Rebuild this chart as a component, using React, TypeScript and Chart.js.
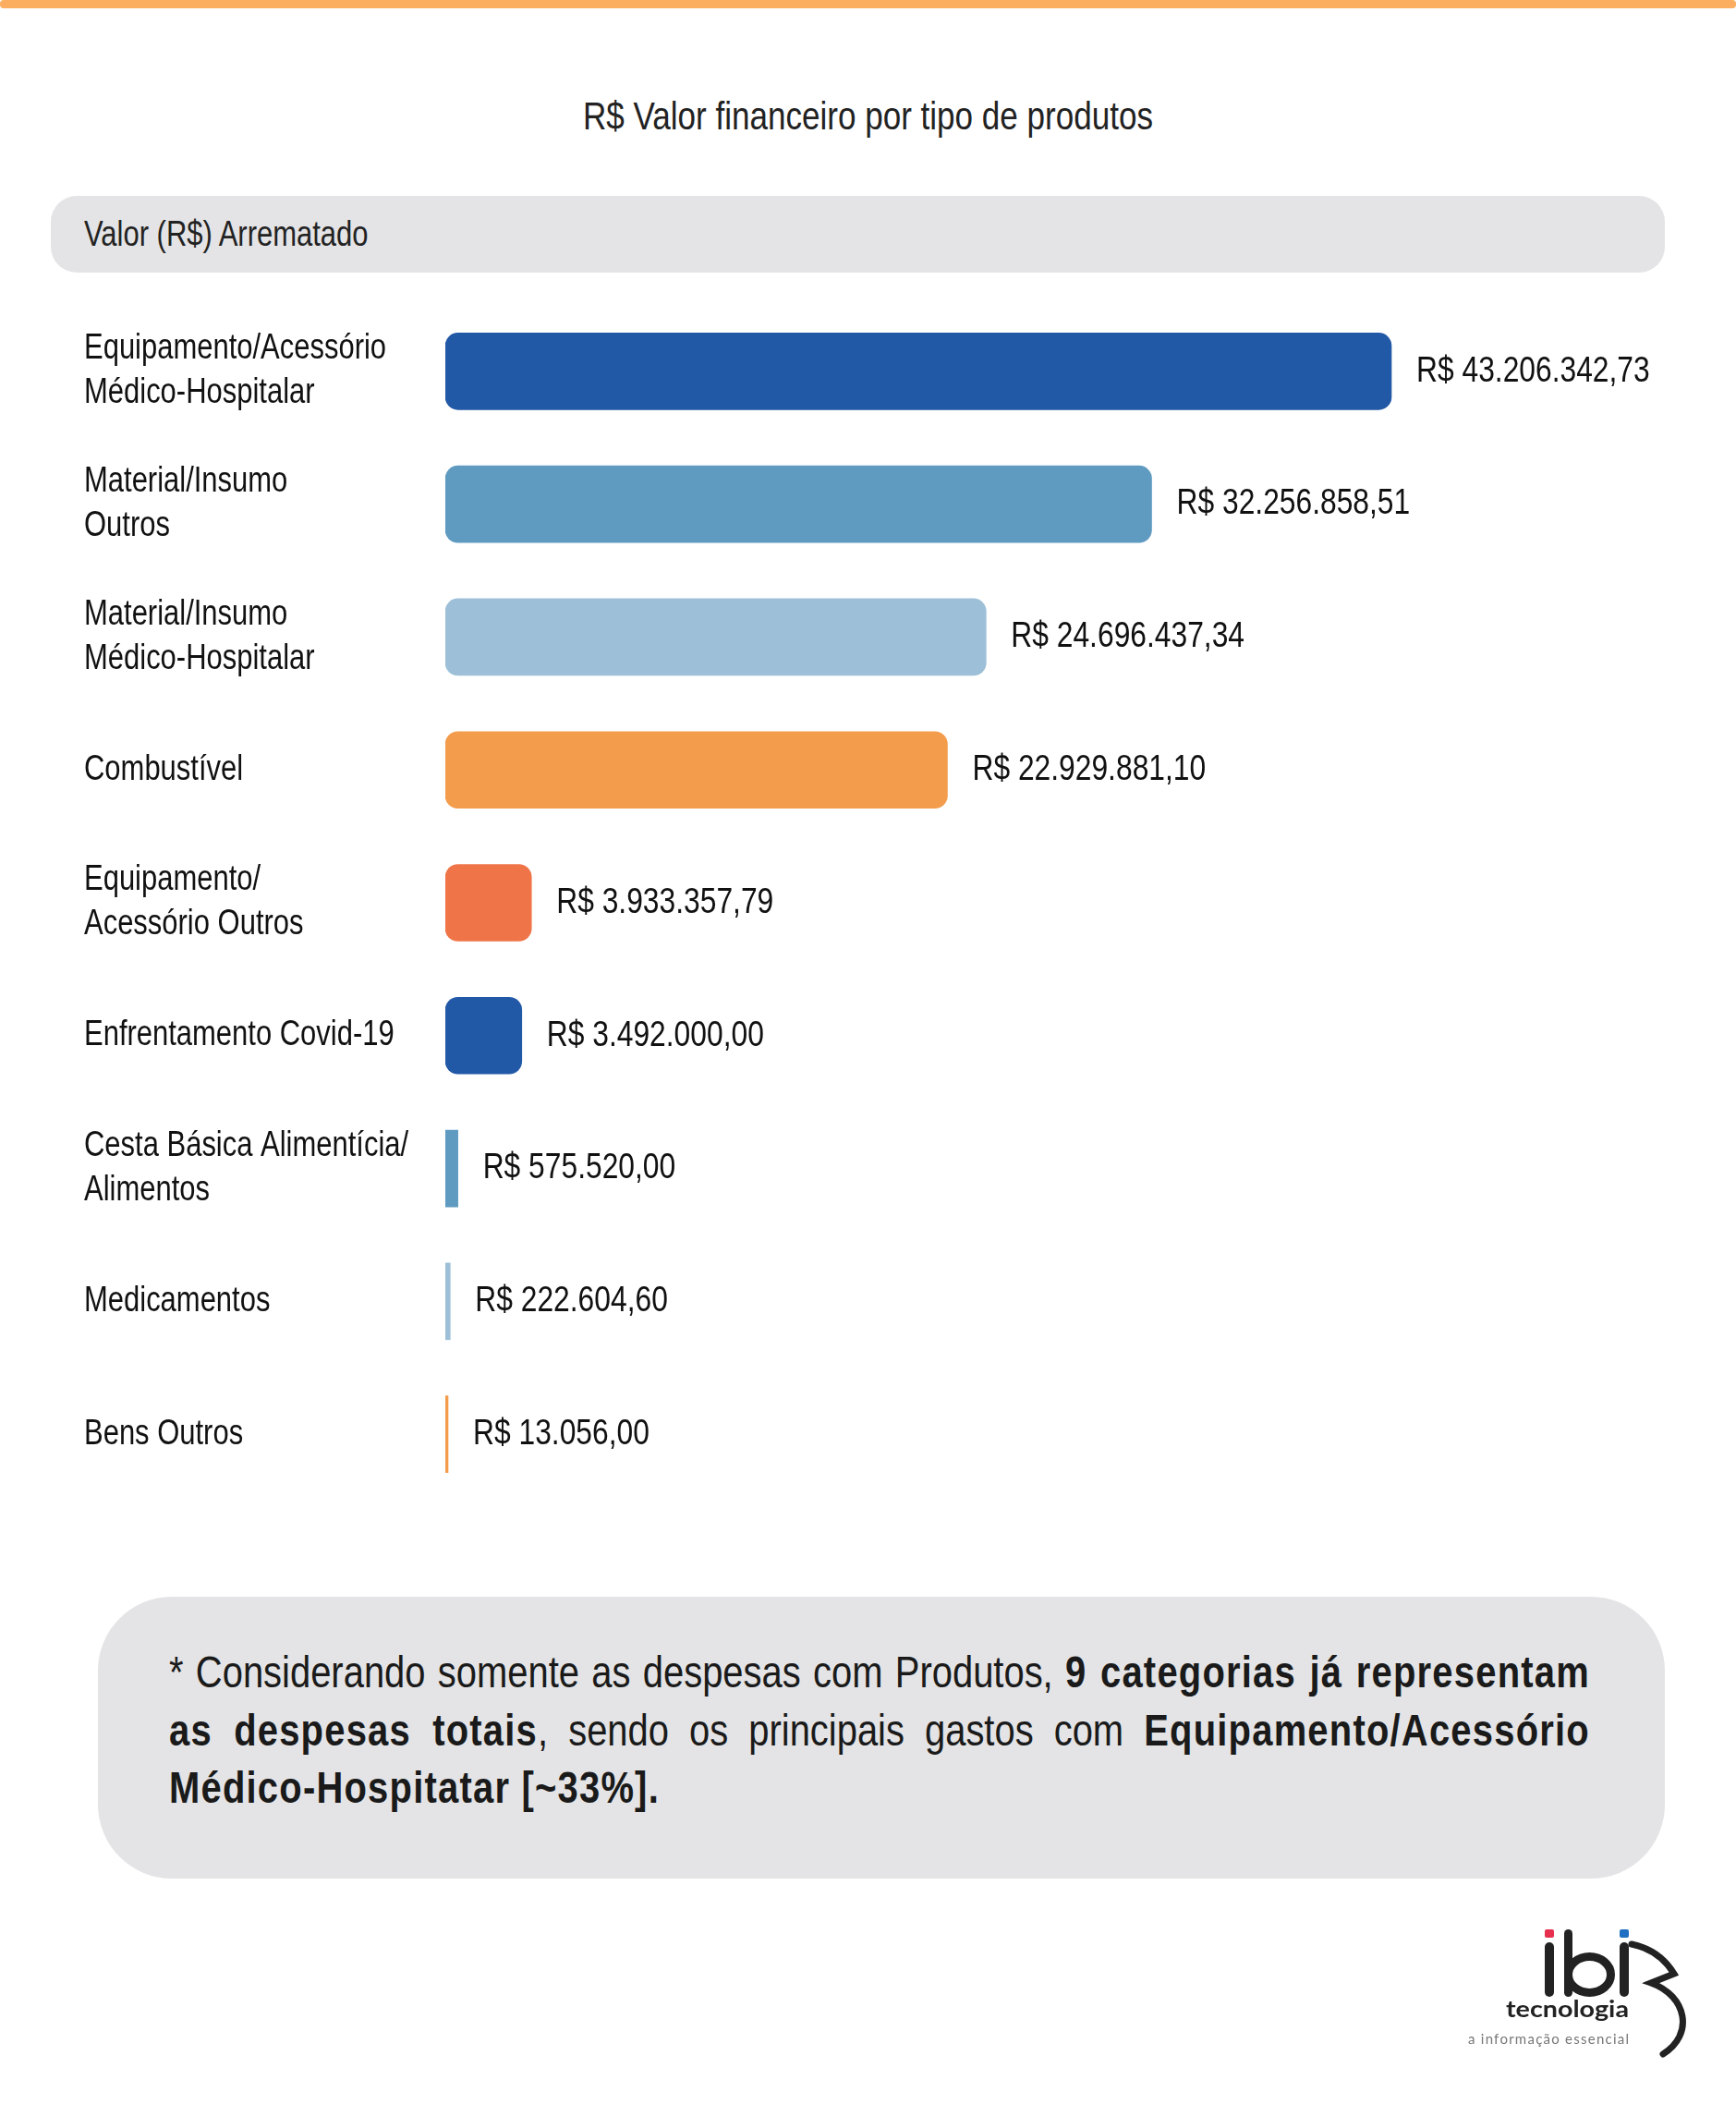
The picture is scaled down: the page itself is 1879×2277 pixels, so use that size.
import React, { useEffect, useRef } from "react";
import { Chart, registerables } from "chart.js";

Chart.register(...registerables);

const categories: (string | string[])[] = [
  ["Equipamento/Acessório", "Médico-Hospitalar"],
  ["Material/Insumo", "Outros"],
  ["Material/Insumo", "Médico-Hospitalar"],
  "Combustível",
  ["Equipamento/", "Acessório Outros"],
  "Enfrentamento Covid-19",
  ["Cesta Básica Alimentícia/", "Alimentos"],
  "Medicamentos",
  "Bens Outros",
];

const values: number[] = [
  43206342.73, 32256858.51, 24696437.34, 22929881.1, 3933357.79, 3492000.0,
  575520.0, 222604.6, 13056.0,
];

const barColors: string[] = [
  "#2259A6",
  "#5F9BC1",
  "#9DC0D8",
  "#F39C4C",
  "#EF7448",
  "#2259A6",
  "#5F9BC1",
  "#9DC0D8",
  "#F39C4C",
];

const xMax = 50000000;

const FONT = '"Liberation Sans", Arial, Helvetica, sans-serif';
const SQ = 0.815; // horizontal condensing to mimic a condensed face

function fmt(v: number): string {
  const [i, d] = v.toFixed(2).split(".");
  return "R$ " + i.replace(/\B(?=(\d{3})+(?!\d))/g, ".") + "," + d;
}

function drawSquished(ctx: CanvasRenderingContext2D, text: string, x: number, y: number) {
  ctx.save();
  ctx.translate(x, y);
  ctx.scale(SQ, 1);
  ctx.fillText(text, 0, 0);
  ctx.restore();
}

const textPlugin = {
  id: "textPlugin",
  afterDatasetsDraw(chart: any) {
    const ctx: CanvasRenderingContext2D = chart.ctx;
    const meta = chart.getDatasetMeta(0);
    const yScale = chart.scales.y;
    ctx.save();
    ctx.fillStyle = "#111";
    ctx.textAlign = "left";
    ctx.textBaseline = "middle";
    ctx.font = `38px ${FONT}`;
    chart.data.labels.forEach((lab: string | string[], idx: number) => {
      const lines = Array.isArray(lab) ? lab : [lab];
      const cy = yScale.getPixelForTick(idx);
      const lh = 48;
      lines.forEach((ln, k) => {
        drawSquished(ctx, ln, yScale.left, cy + (k - (lines.length - 1) / 2) * lh);
      });
    });
    ctx.font = `39px ${FONT}`;
    meta.data.forEach((el: any, idx: number) => {
      const v = chart.data.datasets[0].data[idx];
      drawSquished(ctx, fmt(v), el.x + 27, el.y);
    });
    ctx.restore();
  },
};

function BarChart() {
  const ref = useRef<HTMLCanvasElement | null>(null);
  useEffect(() => {
    if (!ref.current) return;
    const chart = new Chart(ref.current, {
      type: "bar",
      data: {
        labels: categories,
        datasets: [
          {
            data: values,
            backgroundColor: barColors,
            barThickness: 83,
            minBarLength: 3,
            borderSkipped: false,
            borderRadius: (c: any) => (c.raw > 1000000 ? 14 : 0),
          },
        ],
      },
      options: {
        indexAxis: "y",
        animation: false,
        responsive: false,
        maintainAspectRatio: false,
        layout: { padding: { left: 91, right: 212, top: 30, bottom: 36 } },
        plugins: {
          legend: { display: false },
          tooltip: { enabled: false },
        },
        scales: {
          x: { display: false, min: 0, max: xMax },
          y: {
            grid: { display: false },
            border: { display: false },
            afterFit: (s: any) => {
              s.width = 391;
            },
            ticks: { display: false },
          },
        },
      },
      plugins: [textPlugin],
    } as any);
    return () => chart.destroy();
  }, []);
  return (
    <canvas
      ref={ref}
      width={1879}
      height={1360}
      style={{ position: "absolute", left: 0, top: 300, width: 1879, height: 1360 }}
    />
  );
}

const boldStyle = { letterSpacing: "1.5px" };

export default function App() {
  return (
    <div
      style={{
        position: "absolute",
        left: 0,
        top: 0,
        width: 1879,
        height: 2277,
        background: "#fff",
        overflow: "hidden",
        fontFamily: FONT,
      }}
    >
      <div
        style={{
          position: "absolute",
          left: 0,
          top: 0,
          width: 1879,
          height: 9,
          background: "#FBAE60",
          borderRadius: 4,
        }}
      />
      <div
        style={{
          position: "absolute",
          left: 0,
          top: 100,
          width: 1879,
          height: 50,
          lineHeight: "50px",
          textAlign: "center",
          fontSize: 43,
          color: "#222",
          whiteSpace: "nowrap",
        }}
      >
        <span
          style={{
            display: "inline-block",
            transform: `scaleX(${SQ})`,
            transformOrigin: "center",
          }}
        >
          R$ Valor financeiro por tipo de produtos
        </span>
      </div>
      <div
        style={{
          position: "absolute",
          left: 55,
          top: 212,
          width: 1747,
          height: 83,
          borderRadius: 28,
          background: "#E4E4E6",
        }}
      >
        <div
          style={{
            position: "absolute",
            left: 36,
            top: 0,
            height: 83,
            lineHeight: "83px",
            fontSize: 38,
            color: "#222",
            whiteSpace: "nowrap",
            transform: `scaleX(${SQ})`,
            transformOrigin: "left center",
          }}
        >
          Valor (R$) Arrematado
        </div>
      </div>
      <BarChart />
      <div
        style={{
          position: "absolute",
          left: 106,
          top: 1728,
          width: 1696,
          height: 305,
          borderRadius: 80,
          background: "#E4E4E6",
        }}
      >
        <div
          style={{
            position: "absolute",
            left: 77,
            top: 50,
            width: 1538 / SQ,
            fontSize: 49,
            lineHeight: "62.5px",
            color: "#1a1a1a",
            whiteSpace: "nowrap",
            transform: `scaleX(${SQ})`,
            transformOrigin: "left top",
          }}
        >
          <div style={{ textAlign: "justify", textAlignLast: "justify" } as any}>
            * Considerando somente as despesas com Produtos,{" "}
            <b style={boldStyle}>9 categorias já representam</b>
          </div>
          <div style={{ textAlign: "justify", textAlignLast: "justify" } as any}>
            <b style={boldStyle}>as despesas totais</b>, sendo os principais gastos com{" "}
            <b style={boldStyle}>Equipamento/Acessório</b>
          </div>
          <div>
            <b style={boldStyle}>Médico-Hospitatar [~33%].</b>
          </div>
        </div>
      </div>
      <svg
        width={1879}
        height={2277}
        viewBox="0 0 1879 2277"
        style={{ position: "absolute", left: 0, top: 0, pointerEvents: "none" }}
      >
        <rect x={1672} y={2088} width={10} height={9} rx={2} fill="#E6304E" />
        <rect x={1672} y={2102} width={10} height={59} rx={5} fill="#222" />
        <rect x={1693} y={2088} width={9} height={73} rx={4.5} fill="#222" />
        <ellipse
          cx={1720.5}
          cy={2137}
          rx={23}
          ry={19.5}
          fill="none"
          stroke="#222"
          strokeWidth={9}
        />
        <rect x={1753} y={2102} width={10} height={59} rx={5} fill="#222" />
        <rect x={1753} y={2088} width={10} height={9} rx={2} fill="#1E6FC1" />
        <path
          d="M1766 2104 Q1796 2110 1812 2136 L1787 2146 C1826 2160 1834 2202 1800 2223"
          fill="none"
          stroke="#222"
          strokeWidth={7}
          strokeLinecap="round"
          strokeLinejoin="miter"
        />
        <text
          x={1630}
          y={2183}
          fontSize={24}
          fontWeight="bold"
          fontFamily="Lato, 'Noto Sans', sans-serif"
          fill="#222"
          textLength={133}
          lengthAdjust="spacingAndGlyphs"
        >
          tecnologia
        </text>
        <text
          x={1589}
          y={2212}
          fontSize={15}
          fontFamily="Lato, 'Noto Sans', sans-serif"
          fill="#777"
          textLength={174}
          lengthAdjust="spacing"
        >
          a informação essencial
        </text>
      </svg>
    </div>
  );
}
